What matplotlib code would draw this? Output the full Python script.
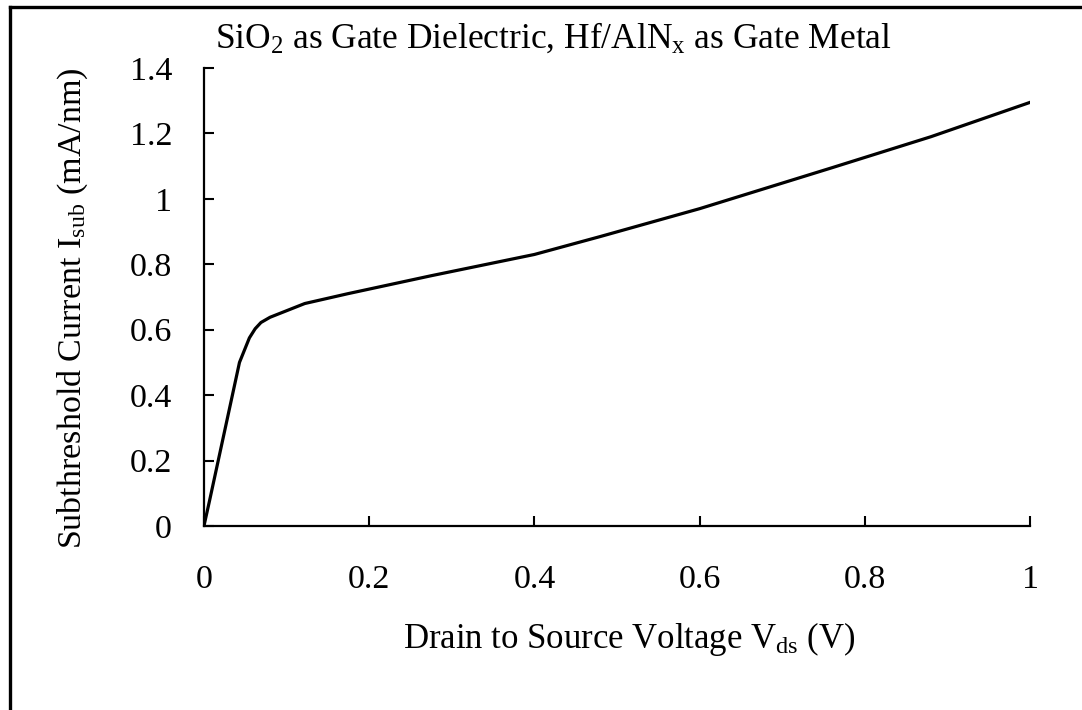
import matplotlib
matplotlib.use('Agg')
import matplotlib.pyplot as plt
from matplotlib.lines import Line2D

plt.rcParams['font.family'] = 'Liberation Serif'
plt.rcParams['mathtext.fontset'] = 'custom'
plt.rcParams['mathtext.rm'] = 'Liberation Serif'
plt.rcParams['mathtext.it'] = 'Liberation Serif:italic'

# subthreshold current vs drain voltage
vds = [0.0, 0.007, 0.025, 0.043, 0.055, 0.062, 0.069, 0.08, 0.094, 0.122, 0.174,
       0.275, 0.4, 0.48, 0.6, 0.76, 0.88, 1.0]
isub = [0.0, 0.08, 0.29, 0.50, 0.575, 0.603, 0.622, 0.638, 0.652, 0.68, 0.71,
        0.765, 0.83, 0.885, 0.97, 1.095, 1.19, 1.295]

xticks = [0, 0.2, 0.4, 0.6, 0.8, 1]
xlabels = ['0', '0.2', '0.4', '0.6', '0.8', '1']
yticks = [0, 0.2, 0.4, 0.6, 0.8, 1, 1.2, 1.4]
ylabels = ['0', '0.2', '0.4', '0.6', '0.8', '1', '1.2', '1.4']

fig = plt.figure(figsize=(10.82, 7.10), dpi=100)
ax = fig.add_axes([0.1885, 0.2592, 0.952 - 0.1885, 0.9042 - 0.2592])

ax.plot(vds, isub, color='black', linewidth=2.3)

ax.set_xlim(0, 1)
ax.set_ylim(0, 1.4)
ax.set_xticks(xticks)
ax.set_xticklabels(xlabels)
ax.set_yticks(yticks)
ax.set_yticklabels(ylabels)

for s in ['top', 'right']:
    ax.spines[s].set_visible(False)
for s in ['left', 'bottom']:
    ax.spines[s].set_linewidth(1.6)

ax.tick_params(axis='both', direction='in', length=7.5, width=1.5, labelsize=24.5)
ax.tick_params(axis='x', pad=28)
ax.tick_params(axis='y', pad=23)

ax.set_xlabel(r'Drain to Source Voltage V$_{\mathrm{ds}}$ (V)', fontsize=25)
ax.xaxis.set_label_coords(0.515, -0.205)
ax.set_ylabel(r'Subthreshold Current I$_{\mathrm{sub}}$ (mA/nm)', fontsize=24.5)
ax.yaxis.set_label_coords(-0.138, 0.476)

fig.text(215 / 1082, 1 - 48 / 710,
         r'SiO$_{\mathrm{2}}$ as Gate Dielectric, Hf/AlN$_{\mathrm{x}}$ as Gate Metal',
         fontsize=25.5, ha='left', va='baseline')

# outer frame (left and top edges)
fig.add_artist(Line2D([9.5 / 1082, 9.5 / 1082], [0, 1 - 7 / 710],
                      color='black', linewidth=2.4, transform=fig.transFigure))
fig.add_artist(Line2D([9.5 / 1082, 1], [1 - 7 / 710, 1 - 7 / 710],
                      color='black', linewidth=2.4, transform=fig.transFigure))

plt.savefig('out.png', dpi=100)
